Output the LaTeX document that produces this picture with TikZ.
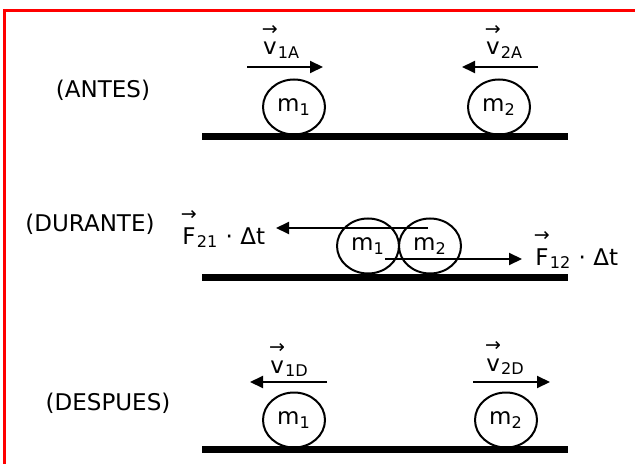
\documentclass[tikz,border=0pt]{standalone}
\usepackage{fontspec}
\setmainfont{DejaVu Sans}
\usetikzlibrary{arrows.meta,shapes.geometric,positioning}

\newcommand{\vecsym}[2]{$\stackrel{\raisebox{1.5pt}{\fontsize{9.5}{9.5}\selectfont →}}{\mbox{#1}}$\textsubscript{#2}}

\begin{document}
\begin{tikzpicture}
    [x=0.5pt,y=-0.5pt,font=\fontsize{11.5}{13}\selectfont,
      mass/.style={draw,ellipse,line width=1pt,inner sep=0pt,minimum width=31pt,minimum height=27.5pt},
      ground/.style={line width=3.5pt},
      vel/.style={line width=1pt,-{Triangle[length=6.5pt,width=6pt]}},
      veclabel/.style={anchor=base,inner sep=0pt}
    ]
    \useasboundingbox (0,0) rectangle (635,464);
    \draw [red,line width=1.5pt] (4,464) -- (4,11) -- (635,11);

    % antes
    \node (antes) at (103,90) {(ANTES)};
    \node [mass] (mA1) at (294,107) {m\textsubscript{1}};
    \node [mass] (mA2) at (499,107) {m\textsubscript{2}};
    \node [veclabel] (vA1) at (281,55) {\vecsym{v}{1A}};
    \node [veclabel] (vA2) at (504,55) {\vecsym{v}{2A}};
    \coordinate (vA1s) at (247,67);
    \coordinate (vA1e) at (323,67);
    \coordinate (vA2s) at (538,67);
    \coordinate (vA2e) at (462,67);
    \draw [vel] (vA1s) -- (vA1e);
    \draw [vel] (vA2s) -- (vA2e);
    \draw [ground] (202,137) -- (568,137);

    % durante
    \node (durante) at (90,224) {(DURANTE)};
    \node [mass] (mU1) at (368,246) {m\textsubscript{1}};
    \node [mass] (mU2) at (430,246) {m\textsubscript{2}};
    \node [veclabel] (F21) at (223,244) {\vecsym{F}{21} · Δt};
    \node [veclabel] (F12) at (576,265) {\vecsym{F}{12} · Δt};
    \coordinate (F21s) at (428,228);
    \coordinate (F21e) at (276,228);
    \coordinate (F12s) at (385,259);
    \coordinate (F12e) at (522,259);
    \draw [vel] (F21s) -- (F21e);
    \draw [vel] (F12s) -- (F12e);
    \draw [ground] (202,277) -- (568,277);

    % despues
    \node (despues) at (108,403) {(DESPUES)};
    \node [mass] (mD1) at (294,420) {m\textsubscript{1}};
    \node [mass] (mD2) at (506,420) {m\textsubscript{2}};
    \node [veclabel] (vD1) at (289,373) {\vecsym{v}{1D}};
    \node [veclabel] (vD2) at (505,371) {\vecsym{v}{2D}};
    \coordinate (vD1s) at (327,382);
    \coordinate (vD1e) at (250,382);
    \coordinate (vD2s) at (473,382);
    \coordinate (vD2e) at (550,382);
    \draw [vel] (vD1s) -- (vD1e);
    \draw [vel] (vD2s) -- (vD2e);
    \draw [ground] (202,449) -- (568,449);
\end{tikzpicture}
\end{document}
